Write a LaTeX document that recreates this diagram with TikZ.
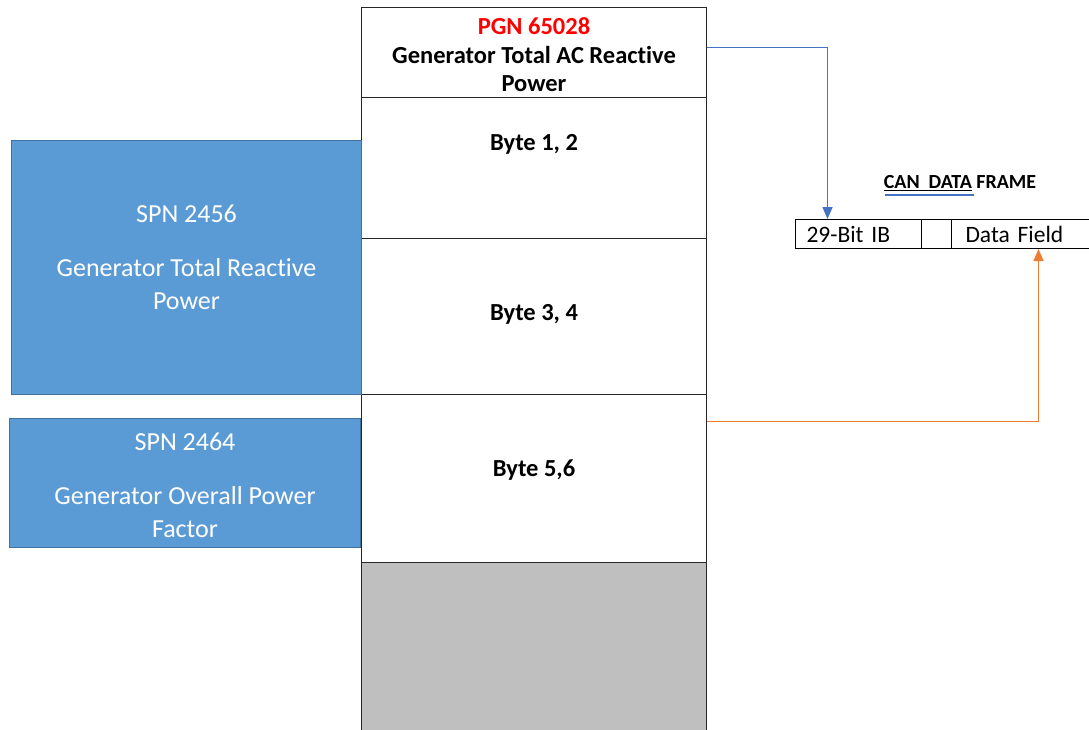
\documentclass[tikz,border=0pt]{standalone}
\usepackage{fontspec}
\setmainfont[Ligatures=NoCommon]{Carlito}
\usetikzlibrary{arrows.meta}
\definecolor{spnblue}{HTML}{5B9BD5}
\definecolor{spnedge}{HTML}{41719C}
\definecolor{pgnred}{HTML}{FF0000}
\definecolor{linkblue}{HTML}{4472C4}
\definecolor{linkorange}{HTML}{ED7D31}
\definecolor{padgray}{HTML}{BFBFBF}
\protected\def\fieldfont{\fontsize{23.5}{24}\selectfont\spaceskip=0.2em\relax}
\tikzset{
  cell/.style={draw=black!85, line width=1.4pt, minimum width=345pt, anchor=north west, inner sep=0pt},
  celltext/.style={font=\bfseries\fontsize{24.5}{28.5}\selectfont, align=center},
  spnbox/.style={fill=spnblue, draw=spnedge, line width=1pt, anchor=north west},
  spntext/.style={text=white, align=center, font=\fontsize{26}{33}\selectfont},
  fieldcell/.style={draw=black, line width=1pt, minimum height=29pt, inner ysep=0pt, anchor=north west, font=\fieldfont, align=left},
  link/.style={line width=1.5pt, -{Triangle[length=12pt,width=10pt]}},
}
\begin{document}
\begin{tikzpicture}[x=1pt, y=-1pt]
  \useasboundingbox (0,0) rectangle (1089,729);
  \clip (0,0) rectangle (1089,729);
  % PGN column
  \node[cell, minimum height=90pt] (hdr) at (361,7) {};
  \node[cell, minimum height=141pt] (b12) at (361,97) {};
  \node[cell, minimum height=156pt] (b34) at (361,238) {};
  \node[cell, minimum height=168pt] (b56) at (361,394) {};
  \node[cell, minimum height=180pt, fill=padgray] (pad) at (361,562) {};
  \node[celltext] (hdrtext) at (534,55) {{\color{pgnred}PGN 65028}\\Generator Total AC Reactive\\Power};
  \node[celltext] (t12) at (534,144) {Byte 1, 2};
  \node[celltext] (t34) at (534,314) {Byte 3, 4};
  \node[celltext] (t56) at (534,470) {Byte 5,6};
  % SPN boxes
  \node[spnbox, minimum width=350pt, minimum height=254pt] (spn1) at (11,140) {};
  \node[spntext] (spn1text) at ([yshift=10pt]spn1.center)
    {SPN 2456\\[21pt]Generator Total Reactive\\Power};
  \node[spnbox, minimum width=351pt, minimum height=129pt] (spn2) at (9,418) {};
  \node[spntext] (spn2text) at ([yshift=-2pt]spn2.center)
    {SPN 2464\\[21pt]Generator Overall Power\\Factor};
  % CAN data frame
  \node[font=\bfseries\fontsize{20}{22}\selectfont] (title) at (960,183) {\underline{CAN\ \ DATA} FRAME};
  \draw[linkblue, line width=1.4pt] (885,195) -- (974,195);
  \node[fieldcell, inner xsep=11pt, text width=104pt] (idf) at (795,219) {29-Bit IB};
  \node[fieldcell, minimum width=30pt, inner sep=0pt] (gapf) at (921,219) {};
  \node[fieldcell, inner xsep=14pt, text width=112pt] (dfield) at (951,219) {Data Field};
  % links
  \draw[link, color=linkblue] ([yshift=5pt]hdr.east) -| ([xshift=-31pt]idf.north);
  \draw[link, color=linkorange] ([yshift=57pt]b56.east) -| ([xshift=17pt]dfield.south);
\end{tikzpicture}
\end{document}
